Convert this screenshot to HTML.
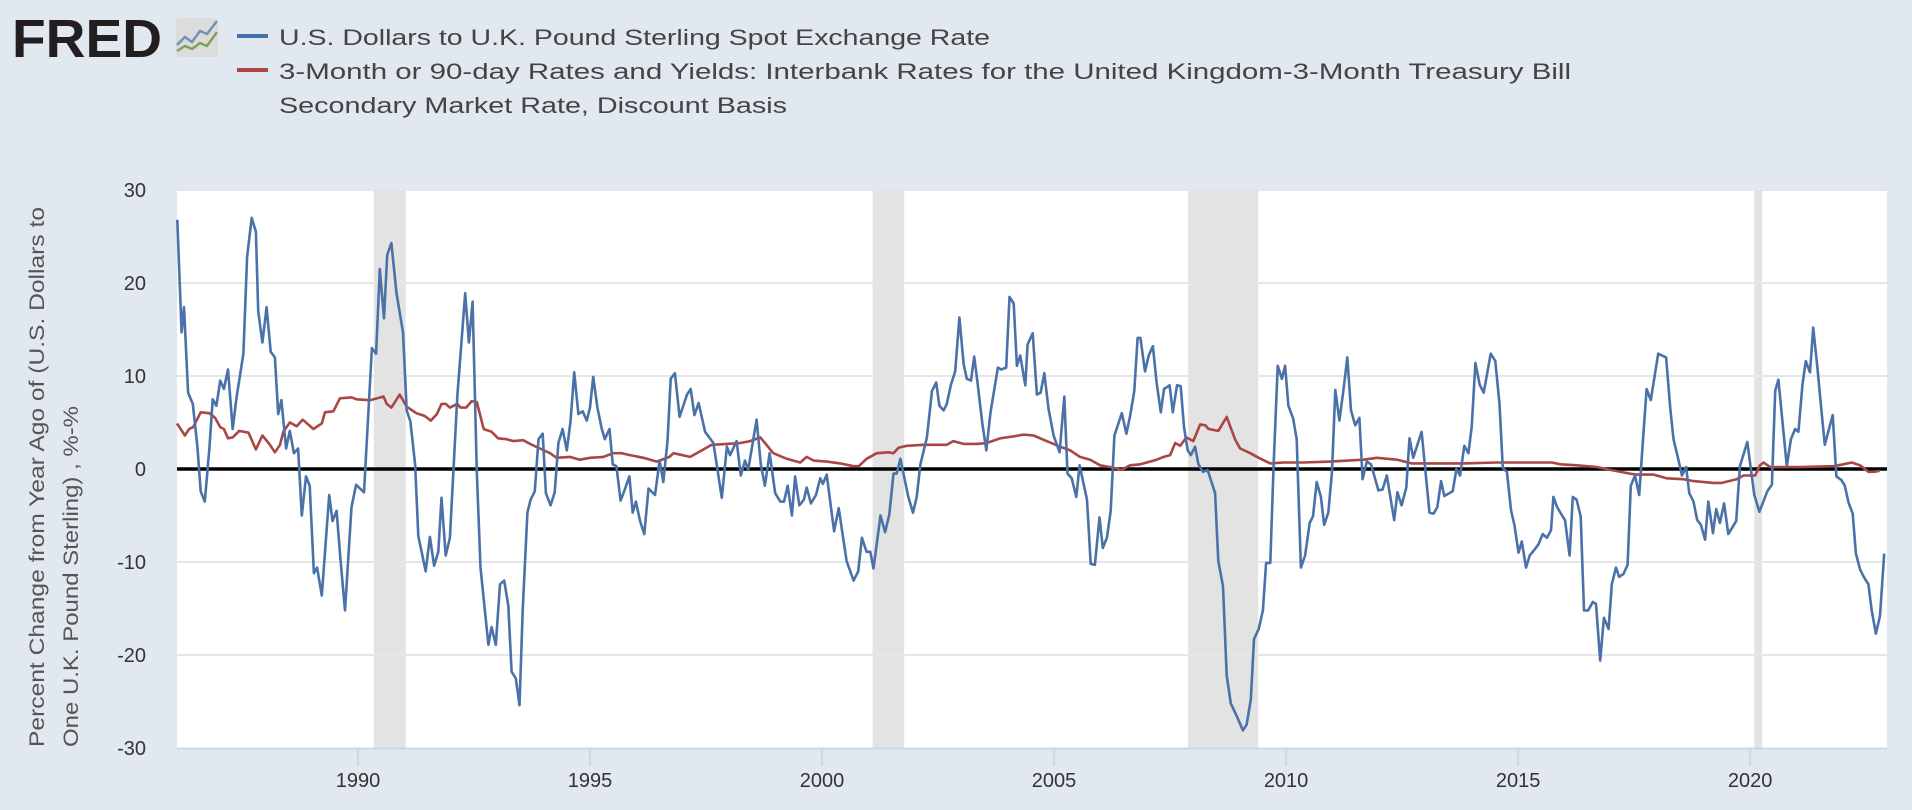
<!DOCTYPE html>
<html><head><meta charset="utf-8">
<style>
html,body{margin:0;padding:0;background:#e1e8f0;}
svg{display:block;font-family:"Liberation Sans",sans-serif;}
</style></head>
<body>
<svg id="chart" width="1912" height="810" viewBox="0 0 1912 810" xmlns="http://www.w3.org/2000/svg">
<rect x="0" y="0" width="1912" height="810" fill="#e1e8f0"/>
<g>
<text x="12" y="57" font-size="54" font-weight="bold" fill="#231f20" textLength="150" lengthAdjust="spacingAndGlyphs">FRED</text>
<rect x="176" y="18" width="42" height="39" rx="4" fill="#dcdcdc"/>
<polyline points="177,45 185,37 192,42 200,31 207,34 217,21" fill="none" stroke="#6f93b5" stroke-width="2.5"/>
<polyline points="177,51 185,46 192,49 200,43 207,46 217,32" fill="none" stroke="#7da353" stroke-width="2.5"/>
</g>
<g>
<line x1="237" y1="36" x2="268" y2="36" stroke="#4572a7" stroke-width="4"/>
<text x="279" y="45" font-size="22" fill="#444" textLength="711" lengthAdjust="spacingAndGlyphs">U.S. Dollars to U.K. Pound Sterling Spot Exchange Rate</text>
<line x1="237" y1="70" x2="268" y2="70" stroke="#aa4643" stroke-width="4"/>
<text x="279" y="79" font-size="22" fill="#444" textLength="1292" lengthAdjust="spacingAndGlyphs">3-Month or 90-day Rates and Yields: Interbank Rates for the United Kingdom-3-Month Treasury Bill</text>
<text x="279" y="113" font-size="22" fill="#444" textLength="508" lengthAdjust="spacingAndGlyphs">Secondary Market Rate, Discount Basis</text>
</g>
<rect x="177" y="190" width="1710" height="558" fill="#ffffff"/>
<g id="rec"></g>
<g id="grid"></g>
<g id="yt"></g>
<g id="xt"></g>
<line x1="177" y1="748.5" x2="1887" y2="748.5" stroke="#ccd6eb" stroke-width="2"/>
<g font-size="21" fill="#555">
<text transform="translate(44,747) rotate(-90)" textLength="540" lengthAdjust="spacingAndGlyphs">Percent Change from Year Ago of (U.S. Dollars to</text>
<text transform="translate(78,747) rotate(-90)" textLength="341" lengthAdjust="spacingAndGlyphs">One U.K. Pound Sterling) , %-%</text>
</g>
<g id="series"></g>
</svg>
<script>
const blueDates=[1986.106,1986.2,1986.25,1986.34,1986.44,1986.54,1986.61,1986.7,1986.8,1986.87,1986.95,1987.03,1987.11,1987.2,1987.3,1987.38,1987.53,1987.61,1987.71,1987.8,1987.85,1987.94,1988.03,1988.12,1988.21,1988.28,1988.35,1988.45,1988.53,1988.62,1988.71,1988.79,1988.88,1988.96,1989.05,1989.12,1989.22,1989.38,1989.45,1989.54,1989.62,1989.72,1989.86,1989.96,1990.13,1990.3,1990.39,1990.47,1990.56,1990.63,1990.72,1990.83,1990.97,1991.05,1991.13,1991.23,1991.3,1991.46,1991.55,1991.64,1991.73,1991.8,1991.89,1991.98,1992.14,1992.31,1992.39,1992.47,1992.56,1992.64,1992.81,1992.88,1992.97,1993.06,1993.15,1993.24,1993.31,1993.4,1993.48,1993.55,1993.65,1993.72,1993.81,1993.89,1993.98,1994.05,1994.15,1994.24,1994.32,1994.41,1994.5,1994.58,1994.66,1994.75,1994.84,1994.93,1995,1995.07,1995.16,1995.25,1995.32,1995.42,1995.49,1995.57,1995.66,1995.75,1995.85,1995.92,1995.99,1996.08,1996.17,1996.26,1996.4,1996.5,1996.58,1996.67,
1996.74,1996.83,1996.93,1997.09,1997.17,1997.25,1997.34,1997.48,1997.66,1997.84,1997.95,1998.02,1998.16,1998.25,1998.34,1998.41,1998.59,1998.68,1998.77,1998.87,1998.99,1999.1,1999.18,1999.26,1999.35,1999.42,1999.51,1999.61,1999.67,1999.76,1999.87,1999.96,2000.02,2000.1,2000.26,2000.36,2000.53,2000.68,2000.78,2000.86,2000.96,2001.04,2001.11,2001.26,2001.36,2001.45,2001.54,2001.61,2001.69,2001.86,2001.96,2002.04,2002.12,2002.26,2002.37,2002.46,2002.53,2002.62,2002.69,2002.78,2002.87,2002.96,2003.05,2003.12,2003.21,2003.28,2003.35,2003.45,2003.54,2003.63,2003.79,2003.86,2003.97,2004.04,2004.13,2004.2,2004.27,2004.38,2004.43,2004.54,2004.63,2004.71,2004.79,2004.88,2004.99,2005.12,2005.22,2005.29,2005.38,2005.48,2005.55,2005.71,2005.79,2005.88,2005.98,2006.05,2006.14,2006.22,2006.3,2006.46,2006.56,2006.64,2006.73,2006.8,2006.86,
2006.96,2007.04,2007.13,2007.21,2007.3,2007.37,2007.49,2007.56,2007.65,2007.73,2007.8,2007.88,2007.95,2008.04,2008.11,2008.21,2008.31,2008.47,2008.54,2008.64,2008.72,2008.81,2008.94,2009.07,2009.15,2009.24,2009.31,2009.41,2009.5,2009.57,2009.66,2009.73,2009.82,2009.91,2009.98,2010.05,2010.15,2010.23,2010.32,2010.41,2010.51,2010.58,2010.66,2010.75,2010.82,2010.91,2010.99,2011.06,2011.15,2011.24,2011.32,2011.4,2011.49,2011.58,2011.65,2011.74,2011.83,2011.99,2012.08,2012.17,2012.33,2012.4,2012.49,2012.59,2012.66,2012.74,2012.92,2013.09,2013.18,2013.26,2013.34,2013.41,2013.59,2013.67,2013.75,2013.84,2013.93,2014.0,2014.08,2014.17,2014.26,2014.41,2014.51,2014.6,2014.67,2014.76,2014.85,2014.92,2015.01,2015.08,2015.17,2015.25,2015.35,2015.44,2015.53,2015.62,2015.71,2015.76,2015.84,2015.96,2016.01,2016.11,2016.18,2016.26,2016.35,2016.42,2016.51,2016.61,2016.68,2016.77,2016.85,2016.95,2017.02,2017.11,2017.18,2017.27,2017.36,2017.43,
2017.52,2017.61,2017.69,2017.77,2017.86,2018.02,2018.19,2018.28,2018.35,2018.46,2018.53,2018.62,2018.69,2018.78,2018.86,2018.94,2019.03,2019.1,2019.2,2019.27,2019.35,2019.44,2019.53,2019.7,2019.78,2019.94,2020.09,2020.2,2020.37,2020.47,2020.54,2020.61,2020.79,2020.88,2020.97,2021.04,2021.13,2021.2,2021.29,2021.36,2021.45,2021.54,2021.61,2021.78,2021.86,2021.97,2022.04,2022.12,2022.21,2022.28,2022.37,2022.45,2022.55,2022.62,2022.71,2022.8,2022.89];
const blueValues=[26.8,14.7,17.4,8.2,7,2.4,-2.4,-3.5,2.4,7.5,6.8,9.5,8.6,10.7,4.3,7.6,12.4,22.8,27,25.5,17,13.6,17.4,12.6,12,5.9,7.4,2.2,4.1,1.7,2.2,-5,-0.8,-1.8,-11.2,-10.6,-13.6,-2.8,-5.6,-4.5,-9.5,-15.2,-4.1,-1.7,-2.5,13,12.4,21.5,16.2,23,24.3,18.9,14.7,6.3,5.1,0.5,-7.2,-11,-7.3,-10.4,-8.9,-3.1,-9.3,-7.4,7.8,18.9,13.6,18,-0.3,-10.6,-18.9,-17,-18.9,-12.4,-12,-14.7,-21.8,-22.5,-25.4,-15.2,-4.7,-3.3,-2.4,3.2,3.8,-2.6,-3.9,-2.5,2.8,4.3,2,5.1,10.4,5.9,6.2,5.2,6.6,9.9,6.6,4.4,3.2,4.3,0.5,0.3,-3.4,-2.2,-0.8,-4.7,-3.5,-5.6,-7,-2.1,-2.8,0.9,-1.4,3,
9.7,10.3,5.6,8,8.6,5.8,7.1,4,2.8,-3.1,2.4,1.5,3,-0.7,0.9,-0.1,5.3,0.5,-1.8,1.7,-2.6,-3.5,-3.5,-1.8,-5,-0.8,-3.9,-3.3,-2,-3.7,-2.8,-1,-1.6,-0.6,-6.7,-4.2,-9.9,-12,-11,-7.4,-8.9,-8.9,-10.7,-5,-6.8,-4.9,-0.5,-0.5,1.1,-3,-4.7,-3,0.5,3.4,8.4,9.3,6.8,6.3,7,9.1,10.5,16.3,11.3,9.7,9.5,12.1,9.3,5.1,2,6.1,10.9,10.7,10.9,18.5,17.8,11.1,12.2,9,13.4,14.6,8,8.2,10.3,6.5,3.6,1.8,7.8,-0.5,-1,-3,0.4,-3.3,-10.2,-10.3,-5.2,-8.5,-7.4,-4.5,3.6,6,3.8,5.7,8.4,14.1,14.1,
10.5,12.2,13.2,9.3,6.1,8.6,9,6.1,9,8.9,4.5,2,1.5,2.4,0.5,-0.3,-0.1,-2.6,-9.9,-12.6,-22.2,-25.2,-26.6,-28.1,-27.5,-24.8,-18.3,-17.2,-15.2,-10.1,-10.1,0.1,11.1,9.7,11.1,6.8,5.5,3.2,-10.6,-9.3,-5.8,-5.1,-1.4,-3,-6,-4.7,-0.3,8.5,5.2,8.6,12,6.3,4.7,5.5,-1.1,0.8,0.5,-2.3,-2.2,-0.7,-5.5,-2.5,-3.9,-2,3.3,1.2,4,-4.7,-4.8,-4.1,-1.3,-2.9,-2.4,0,-0.7,2.5,1.7,4.5,11.4,9.1,8.2,12.4,11.6,7,0.1,-0.3,-4.5,-6,-9,-7.8,-10.6,-9.3,-8.7,-8.1,-7,-7.4,-6.6,-3,-4.1,-5.1,-5.5,-9.3,-3,-3.3,-5.1,-15.2,-15.2,-14.3,-14.5,-20.6,-16,-17.2,-12.4,-10.6,-11.6,-11.3,-10.3,-1.8,
-0.7,-2.8,3,8.6,7.4,12.4,12,6.5,3.2,0.9,-0.7,0.2,-2.6,-3.5,-5.5,-6,-7.6,-3.5,-6.9,-4.3,-5.8,-3.7,-7,-5.6,0.3,2.9,-2.8,-4.6,-2.4,-1.7,8.4,9.6,0.3,3.2,4.3,4,9.1,11.6,10.4,15.2,10.9,6.1,2.6,5.8,-0.8,-1.2,-1.8,-3.6,-4.8,-9.1,-10.8,-11.6,-12.4,-15.2,-17.7,-15.8,-9.1];
const redDates=[1986.1,1986.27,1986.36,1986.45,1986.61,1986.8,1986.92,1987.03,1987.11,1987.2,1987.3,1987.44,1987.64,1987.8,1987.94,1988.09,1988.21,1988.32,1988.39,1988.53,1988.68,1988.81,1989.04,1989.22,1989.29,1989.47,1989.61,1989.86,1989.97,1990.26,1990.55,1990.62,1990.72,1990.9,1991.05,1991.26,1991.44,1991.57,1991.7,1991.8,1991.89,1991.98,1992.14,1992.21,1992.33,1992.45,1992.56,1992.71,1992.88,1993.02,1993.2,1993.35,1993.56,1993.71,1993.92,1994.14,1994.28,1994.57,1994.78,1995,1995.29,1995.5,1995.68,1995.86,1996.15,1996.44,1996.71,1996.8,1997.16,1997.41,1997.62,1997.95,1998.24,1998.45,1998.67,1998.95,1999.24,1999.53,1999.67,1999.82,2000.1,2000.39,2000.68,2000.79,2000.96,2001.18,2001.43,2001.54,2001.65,2001.83,2002.19,2002.69,2002.83,2003.05,2003.34,2003.55,2003.84,2004.13,2004.34,2004.56,2004.84,2005.13,2005.35,2005.56,2005.78,2005.99,2006.21,2006.46,2006.64,2006.86,2006.93,2007.21,2007.36,2007.5,2007.61,2007.72,2007.85,2008.0,2008.15,2008.26,2008.33,2008.54,2008.72,2008.9,2009.01,2009.23,2009.41,2009.66,2009.94,2010.38,2010.95,2011.67,2011.96,2012.39,2012.71,2013.11,2013.82,2014.54,2015.73,2015.91,2016.27,2016.7,2016.99,2017.41,2017.56,2017.92,2018.2,2018.56,2018.78,2019.21,2019.39,2019.71,2019.86,2020.11,2020.21,2020.29,2020.43,2021.08,2021.8,2022.01,2022.19,2022.37,2022.55,2022.66,2022.79];
const redValues=[4.9,3.6,4.3,4.5,6.1,6,5.5,4.5,4.3,3.3,3.4,4.1,3.9,2.1,3.6,2.7,1.8,2.6,4,5,4.6,5.3,4.3,4.9,6.1,6.2,7.6,7.7,7.5,7.4,7.8,7,6.6,8,6.7,6,5.7,5.2,5.9,7,7,6.6,7,6.6,6.6,7.3,7.2,4.3,4,3.3,3.2,3,3.1,2.7,2.2,1.7,1.2,1.3,1,1.2,1.3,1.7,1.7,1.5,1.2,0.8,1.3,1.7,1.3,2,2.6,2.7,2.8,3,3.4,1.7,1.1,0.7,1.3,0.9,0.8,0.6,0.3,0.3,1.1,1.7,1.8,1.7,2.3,2.5,2.6,2.6,3,2.7,2.7,2.8,3.3,3.5,3.7,3.6,3,2.4,2,1.3,1,0.4,0.2,-0.1,0.4,0.5,0.6,1,1.3,1.5,2.8,2.5,3.4,3,4.8,4.7,4.3,4.1,5.6,3.2,2.2,1.7,1.2,0.6,0.7,0.7,0.8,1,1.2,1,0.6,0.6,0.6,0.7,0.7,0.5,0.4,0.2,-0.1,-0.5,-0.6,-0.6,-1,-1.1,-1.3,-1.5,-1.5,-1.1,-0.7,-0.7,0.4,0.7,0.2,0.2,0.3,0.5,0.7,0.4,-0.3,-0.3,-0.2];
const recessionStarts=[1990.34,2001.09,2007.89,2020.09];
const recessionEnds=[1991.03,2001.77,2009.4,2020.26];
const yTicks=[30,20,10,0,-10,-20,-30];
const xTickYears=[1990,1995,2000,2005,2010,2015,2020];

const NS="http://www.w3.org/2000/svg";
const PL=177,PR=1887,PT=190,PB=748;
const X0=1986.1,X1=2022.95;
function xs(t){return PL+(t-X0)/(X1-X0)*(PR-PL);}
function ys(v){return PT+(30-v)/60*(PB-PT);}
function mk(tag,attrs,parent){const e=document.createElementNS(NS,tag);for(const k in attrs)e.setAttribute(k,attrs[k]);parent.appendChild(e);return e;}

const rec=document.getElementById('rec');
recessionStarts.forEach((s,i)=>{
  const r=mk('rect',{x:xs(s),y:PT,width:xs(recessionEnds[i])-xs(s),height:PB-PT,fill:'#e3e3e3'},rec);
  
  
});
const grid=document.getElementById('grid'),yt=document.getElementById('yt');
yTicks.forEach(v=>{
  if(v!==0&&v!==-30){
    const l=mk('line',{x1:PL,x2:PR,y1:ys(v),y2:ys(v),stroke:'#e6e6e6','stroke-width':2},grid);
    
    
  }
  const t=mk('text',{x:146,y:ys(v)+7,'text-anchor':'end','font-size':20,fill:'#333'},yt);
  t.textContent=v;
  
  
});
const xt=document.getElementById('xt');
xTickYears.forEach(y=>{
  const tk=mk('line',{x1:xs(y),x2:xs(y),y1:PB,y2:PB+18,stroke:'#ccd6eb','stroke-width':2},xt);
  
  
  const t=mk('text',{x:xs(y),y:PB+39,'text-anchor':'middle','font-size':20,fill:'#333'},xt);
  t.textContent=y;
  
  
});
const ser=document.getElementById('series');
const zl=mk('line',{x1:PL,x2:PR,y1:ys(0),y2:ys(0),stroke:'#000','stroke-width':3.5},ser);


function path(d,v){return d.map((t,i)=>(i?'L':'M')+xs(t).toFixed(1)+','+ys(v[i]).toFixed(1)).join('');}
const rp=mk('path',{d:path(redDates,redValues),fill:'none',stroke:'#aa4643','stroke-width':2.6,'stroke-linejoin':'round'},ser);


const bp=mk('path',{d:path(blueDates,blueValues),fill:'none',stroke:'#4a72a8','stroke-width':2.6,'stroke-linejoin':'round'},ser);


</script>
</body></html>
